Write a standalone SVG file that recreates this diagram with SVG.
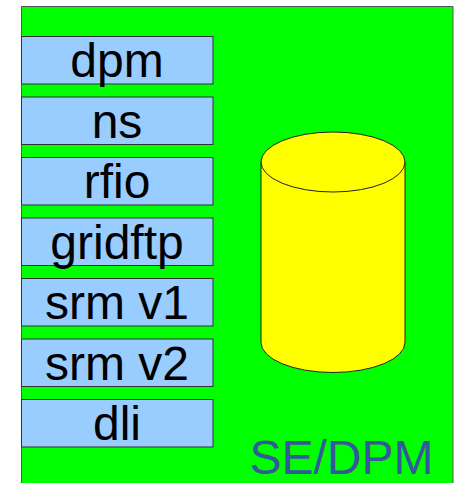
<svg xmlns="http://www.w3.org/2000/svg" width="456" height="483" viewBox="0 0 456 483">
<style>
.box{fill:#99ccff;stroke:#333;stroke-width:1}
.lbl{font-family:"Liberation Sans",Arial,sans-serif;font-size:48px;fill:#000;text-anchor:middle}
.cyl{fill:#ffff00;stroke:#222;stroke-width:1}
</style>
<rect width="456" height="483" fill="#fff"/>
<g id="se-dpm">
<path d="M21.500 484V6.500H453V484" fill="#00ff00" stroke="#555" stroke-width="1"/>
<text x="341.500" y="474" style="font-family:'Liberation Sans',Arial,sans-serif;font-size:48px;fill:#33589c;text-anchor:middle">SE/DPM</text>
</g>
<g id="dpm"><rect class="box" x="21.500" y="36.500" width="191.500" height="47.500"/><text class="lbl" x="117" y="77">dpm</text></g>
<g id="ns"><rect class="box" x="21.500" y="97" width="191.500" height="47.500"/><text class="lbl" x="117" y="138">ns</text></g>
<g id="rfio"><rect class="box" x="21.500" y="157.500" width="191.500" height="47.500"/><text class="lbl" x="117" y="198">rfio</text></g>
<g id="gridftp"><rect class="box" x="21.500" y="218" width="191.500" height="47.500"/><text class="lbl" x="117" y="259">gridftp</text></g>
<g id="srm-v1"><rect class="box" x="21.500" y="278.500" width="191.500" height="47.500"/><text class="lbl" x="117" y="319">srm v1</text></g>
<g id="srm-v2"><rect class="box" x="21.500" y="339" width="191.500" height="47.500"/><text class="lbl" x="117" y="380">srm v2</text></g>
<g id="dli"><rect class="box" x="21.500" y="399.500" width="191.500" height="47.500"/><text class="lbl" x="117" y="440">dli</text></g>
<g id="storage">
<path class="cyl" d="M261 162V342.500A72 30 0 0 0 405 342.500V162Z"/>
<ellipse class="cyl" cx="333" cy="162" rx="72" ry="30"/>
</g>
<g id="connectors"></g>
</svg>
